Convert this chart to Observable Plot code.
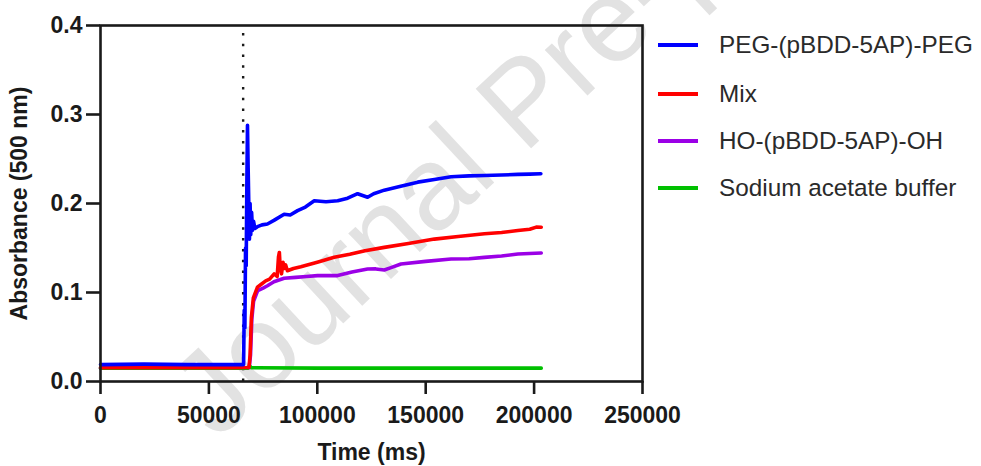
<!DOCTYPE html>
<html>
<head>
<meta charset="utf-8">
<script src="https://cdn.jsdelivr.net/npm/d3@7"></script>
<script src="https://cdn.jsdelivr.net/npm/@observablehq/plot@0.6"></script>
<style>
  html, body { margin: 0; padding: 0; background: #fff; }
  #wrap { position: relative; width: 981px; height: 466px; overflow: hidden; background: #fff; }
  #wm { position: absolute; left: 0; top: 0; }
  #chart { position: absolute; left: 0; top: 0; }
  #legend { position: absolute; left: 0; top: 0; font-family: "Liberation Sans", Arial, sans-serif; font-size: 24.3px; color: #2a2a2a; }
  .row { position: absolute; left: 658px; height: 30px; white-space: nowrap; }
  .sw { position: absolute; left: 0; width: 40px; height: 4px; top: 13px; }
  .lbl { position: absolute; left: 61px; top: 0; line-height: 30px; }
</style>
</head>
<body>
<div id="wrap">
  <svg id="wm" width="981" height="466">
    <text x="217" y="441" transform="rotate(-43 217 441)" font-family="Liberation Sans, Arial, sans-serif" font-size="118" fill="#e2e2e2">Journal Pre-proof</text>
  </svg>
  <div id="chart"></div>
  <div id="legend"></div>
</div>
<script>
// ---- data ----
const seriesNames = ["PEG-(pBDD-5AP)-PEG", "Mix", "HO-(pBDD-5AP)-OH", "Sodium acetate buffer"];
const seriesColors = ["#0000ff", "#ff0000", "#9b00e6", "#00c000"];

const xTicks = [0, 50000, 100000, 150000, 200000, 250000];
const yTicks = [0.0, 0.1, 0.2, 0.3, 0.4];
const injectionTime = 65800;

const blueTime = [0, 20000, 40000, 60000, 66000, 66300, 66600, 66900, 67200, 67500, 67800, 68100, 68400, 68700, 69000, 69300, 69700, 70100, 70600, 71200, 72400, 74500, 77000, 80000, 84700, 87500, 90900, 94500, 98600, 104000, 109400, 114000, 118600, 123200, 126000, 130900, 138000, 146300, 154000, 161700, 170000, 177100, 185000, 192500, 198000, 203100];
const blueAbs  = [0.019, 0.0195, 0.019, 0.019, 0.019, 0.08, 0.06, 0.15, 0.13, 0.22, 0.288, 0.24, 0.2, 0.16, 0.2, 0.165, 0.19, 0.17, 0.18, 0.172, 0.174, 0.176, 0.177, 0.181, 0.188, 0.187, 0.192, 0.196, 0.203, 0.202, 0.203, 0.206, 0.211, 0.207, 0.211, 0.215, 0.219, 0.224, 0.227, 0.230, 0.231, 0.2315, 0.232, 0.2327, 0.233, 0.2335];

const redTime = [0, 30000, 60000, 68500, 69000, 69600, 70500, 72400, 74000, 76200, 78000, 80100, 81500, 82100, 82500, 82900, 83500, 84200, 84700, 85400, 86200, 89000, 92400, 100000, 107800, 115000, 122000, 130900, 142000, 154000, 165000, 177100, 185000, 192500, 198000, 201000, 203300];
const redAbs  = [0.0155, 0.0155, 0.0155, 0.0158, 0.03, 0.072, 0.094, 0.106, 0.109, 0.113, 0.115, 0.121, 0.118, 0.14, 0.145, 0.128, 0.121, 0.134, 0.127, 0.131, 0.1245, 0.127, 0.129, 0.134, 0.1395, 0.143, 0.147, 0.1507, 0.155, 0.160, 0.163, 0.166, 0.1675, 0.1696, 0.171, 0.1735, 0.1733];

const purpleTime = [0, 30000, 60000, 68600, 69200, 69800, 70600, 72500, 75000, 77000, 80000, 84700, 90000, 95000, 100100, 105000, 109400, 116000, 123200, 127000, 130900, 134000, 138600, 150000, 161700, 170000, 177100, 185000, 192500, 203300];
const purpleAbs  = [0.015, 0.015, 0.015, 0.0155, 0.03, 0.07, 0.09, 0.102, 0.105, 0.1076, 0.112, 0.116, 0.117, 0.118, 0.119, 0.119, 0.119, 0.123, 0.1264, 0.1265, 0.1253, 0.128, 0.132, 0.135, 0.1377, 0.138, 0.1395, 0.141, 0.1433, 0.1444];

const greenTime = [0, 68000, 68800, 69500, 100000, 150000, 203300];
const greenAbs  = [0.015, 0.015, 0.0175, 0.0155, 0.015, 0.015, 0.015];

// ---- build tables ----
const toRows = (t, v, s) => t.map((d, i) => ({time: d, abs: v[i], series: s}));
const blue = toRows(blueTime, blueAbs, seriesNames[0]);
const red = toRows(redTime, redAbs, seriesNames[1]);
const purple = toRows(purpleTime, purpleAbs, seriesNames[2]);
const green = toRows(greenTime, greenAbs, seriesNames[3]);

const ink = "#1a1a1a";
const lw = 3.6;

const chart = Plot.plot({
  width: 981,
  height: 466,
  marginLeft: 100,
  marginRight: 339,
  marginTop: 25,
  marginBottom: 85,
  style: {background: "transparent", fontFamily: "'Liberation Sans', Arial, sans-serif", fontSize: "23px", fontWeight: "bold", color: ink, overflow: "visible"},
  x: {domain: [0, 250000]},
  y: {domain: [0, 0.4]},
  marks: [
    Plot.ruleX([injectionTime], {y1: 0, y2: 0.392, stroke: ink, strokeWidth: 2.4, strokeDasharray: "2.5,8.3"}),
    Plot.line(purple, {x: "time", y: "abs", stroke: seriesColors[2], strokeWidth: lw}),
    Plot.line(green, {x: "time", y: "abs", stroke: seriesColors[3], strokeWidth: lw}),
    Plot.line(red, {x: "time", y: "abs", stroke: seriesColors[1], strokeWidth: lw}),
    Plot.line(blue, {x: "time", y: "abs", stroke: seriesColors[0], strokeWidth: lw}),
    Plot.frame({stroke: ink, strokeWidth: 2.6}),
    Plot.axisX({ticks: xTicks, tickFormat: d => String(d), tickSize: 13, tickPadding: 12, stroke: ink, strokeWidth: 2.6, fill: ink,
      label: "Time (ms)", labelAnchor: "center", labelOffset: 78, labelArrow: "none"}),
    Plot.axisY({ticks: yTicks, tickFormat: d3.format(".1f"), tickSize: 14, tickPadding: 4, stroke: ink, strokeWidth: 2.6, fill: ink,
      label: "Absorbance (500 nm)", labelAnchor: "center", labelOffset: 90, labelArrow: "none"})
  ]
});
document.getElementById("chart").appendChild(chart);

// ---- legend ----
const legendTops = [30, 79, 126, 173];
const legend = document.getElementById("legend");
seriesNames.forEach((name, i) => {
  const row = document.createElement("div");
  row.className = "row";
  row.style.top = legendTops[i] + "px";
  const sw = document.createElement("div");
  sw.className = "sw";
  sw.style.background = seriesColors[i];
  const lb = document.createElement("div");
  lb.className = "lbl";
  lb.textContent = name;
  row.appendChild(sw);
  row.appendChild(lb);
  legend.appendChild(row);
});
</script>
</body>
</html>
